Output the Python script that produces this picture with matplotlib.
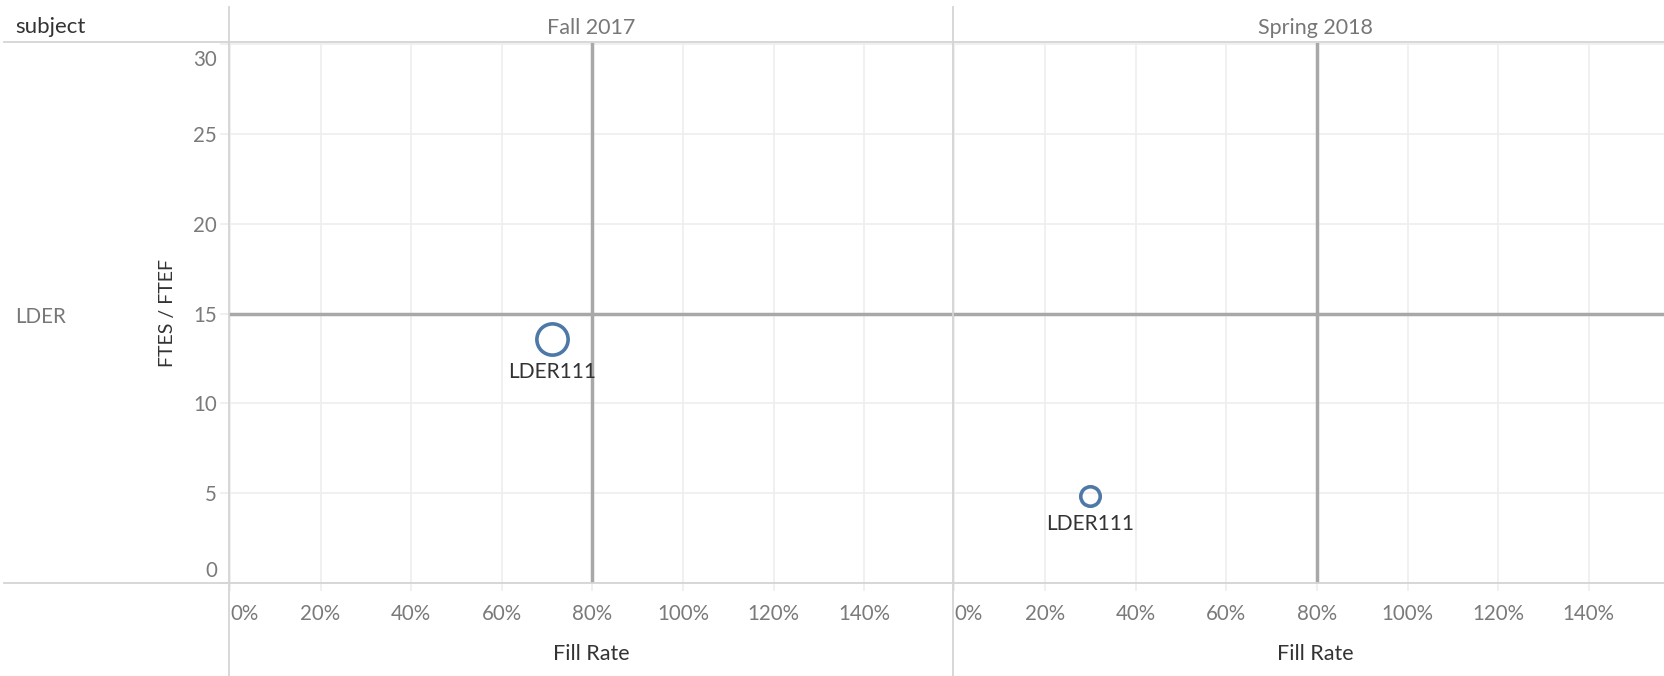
import matplotlib
matplotlib.use("Agg")
import matplotlib.pyplot as plt
from matplotlib.lines import Line2D
from matplotlib.ticker import FixedLocator, FuncFormatter
from matplotlib.transforms import ScaledTranslation

# ---- data ----
terms = ["Fall 2017", "Spring 2018"]
subject = "LDER"
course_labels = ["LDER111", "LDER111"]
fill_rate = [0.711, 0.300]
ftes_ftef = [13.6, 4.85]
marker_sizes_pt = [22.5, 14.0]   # size encoding
ref_fill = 0.8
ref_ftes = 15
x_ticks = [0.0, 0.2, 0.4, 0.6, 0.8, 1.0, 1.2, 1.4]
y_ticks = [0, 5, 10, 15, 20, 25, 30]

W, H = 1664, 676
DPI = 100
plt.rcParams['font.family'] = ['Lato', 'DejaVu Sans']
fig = plt.figure(figsize=(W / DPI, H / DPI), dpi=DPI)

def fx(px):
    return px / W

def fy(py):
    return 1 - py / H

left0 = 229.0
pw = 724.5
top_px = 42.6
bot_px = 583.3
ax_h = (bot_px - top_px) / H

blue = "#4e79a7"
grid_c = "#eeeeee"
border_c = "#d4d4d4"
ref_c = "#a8a8a8"
tick_c = "#7a7a7a"
dark = "#333333"

axes = []
for i, term in enumerate(terms):
    ax = fig.add_axes([fx(left0 + i * pw), fy(bot_px), pw / W, ax_h])
    axes.append(ax)
    ax.set_xlim(-0.002, 1.597)
    ax.set_ylim(0, 30.07)
    for s in ax.spines.values():
        s.set_visible(False)
    ax.xaxis.set_major_locator(FixedLocator(x_ticks))
    ax.xaxis.set_major_formatter(FuncFormatter(lambda v, p: f"{v*100:.0f}%"))
    ax.yaxis.set_major_locator(FixedLocator(y_ticks))
    ax.grid(True, color=grid_c, lw=1.2, zorder=0)
    ax.set_axisbelow(True)
    ax.tick_params(axis='x', length=6, color=grid_c, width=1.2, pad=9,
                   labelsize=14.8, labelcolor=tick_c)
    if i == 0:
        ax.tick_params(axis='y', length=6.5, color=grid_c, width=1.2, pad=2,
                       labelsize=14.8, labelcolor=tick_c)
    else:
        ax.tick_params(axis='y', length=0, labelleft=False)
    # reference lines
    ax.axvline(ref_fill, color=ref_c, lw=2.5, zorder=2)
    ax.axhline(ref_ftes, color=ref_c, lw=2.5, zorder=2)
    # mark
    ax.plot([fill_rate[i]], [ftes_ftef[i]], 'o', ms=marker_sizes_pt[i],
            mfc='none', mec=blue, mew=2.6, zorder=3, clip_on=False)
    off = marker_sizes_pt[i] / 2 + 13.0
    ax.annotate(course_labels[i], (fill_rate[i], ftes_ftef[i]),
                xytext=(0, -off), textcoords='offset points',
                ha='center', va='center', fontsize=15, color=dark)
    ax.set_xlabel("Fill Rate", fontsize=15.5, color=dark)
    ax.xaxis.set_label_coords(0.5, ((H - 654.0) - (H - bot_px)) / (bot_px - top_px))
    ax.xaxis.label.set_va('center')

fig.text(fx(591), fy(27.5), terms[0], ha='center', va='center', fontsize=15.5, color="#777777")
fig.text(fx(1315.5), fy(27.5), terms[1], ha='center', va='center', fontsize=15.5, color="#777777")

fig.canvas.draw()
# edge tick labels shifted inside, Tableau-style
for ax in axes:
    xl = ax.get_xticklabels()
    xl[0].set_ha('left')
yl = axes[0].get_yticklabels()
yl[-1].set_transform(yl[-1].get_transform() + ScaledTranslation(0, -14.0 / DPI, fig.dpi_scale_trans))
yl[0].set_transform(yl[0].get_transform() + ScaledTranslation(0, 14.5 / DPI, fig.dpi_scale_trans))

fig.text(fx(15), fy(27), "subject", ha='left', va='center', fontsize=16, color=dark)
fig.text(fx(15), fy(317), subject, ha='left', va='center', fontsize=14.8, color="#777777")
fig.text(fx(167.7), fy(313), "FTES / FTEF", ha='center', va='center', rotation=90,
         fontsize=14, color=dark)

# table borders
for y in (42.0, bot_px):
    fig.add_artist(Line2D([fx(4), 1], [fy(y), fy(y)], color=border_c, lw=1.3))
for x in (left0, left0 + pw):
    fig.add_artist(Line2D([fx(x), fx(x)], [fy(7), 0], color=border_c, lw=1.3))

fig.savefig("out.png", dpi=DPI)
